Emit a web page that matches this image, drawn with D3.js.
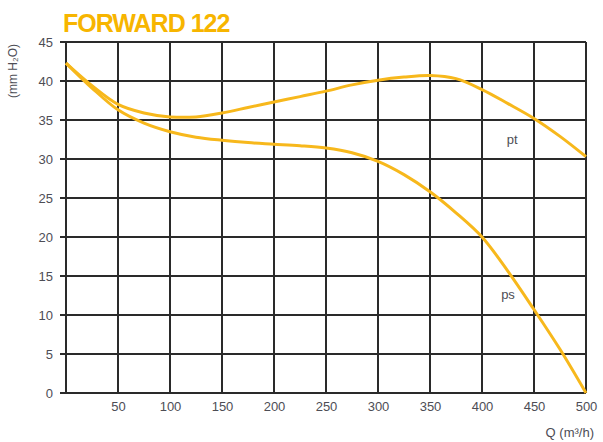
<!DOCTYPE html>
<html><head><meta charset="utf-8">
<script src="https://cdn.jsdelivr.net/npm/d3@7"></script>
<style>body{margin:0;background:#fff}svg{display:block}</style>
</head><body>
<script>
const title = "FORWARD 122";
const q = [0,25,50,75,100,125,150,175,200,225,250,275,300,325,350,375,400,425,450,475,500];
const pt = [42.3,39.4,37.0,35.9,35.4,35.4,35.9,36.6,37.3,38.0,38.7,39.5,40.1,40.5,40.7,40.3,38.9,37.1,35.2,32.9,30.3];
const ps = [42.3,39.1,36.3,34.6,33.5,32.8,32.4,32.1,31.9,31.7,31.4,30.8,29.7,28.0,25.8,23.1,20.0,15.6,10.7,5.6,0];
const xTicks = [50,100,150,200,250,300,350,400,450,500];
const yTicks = [0,5,10,15,20,25,30,35,40,45];
const seriesLabels = [{name:"pt", q:429, v:31.9},{name:"ps", q:425, v:12.0}];

const W=603,H=442;
const svg=d3.select("body").append("svg").attr("width",W).attr("height",H);
const x=d3.scaleLinear().domain([0,500]).range([66,586]);
const y=d3.scaleLinear().domain([0,45]).range([393,42]);
const gridColor="#2a2a2a", curveColor="#f7b81c", textColor="#4d4d55";
const font="Liberation Sans, Arial, sans-serif";

// grid
svg.append("g").selectAll("line").data(d3.range(0,501,50)).join("line")
  .attr("x1",d=>x(d)).attr("x2",d=>x(d)).attr("y1",y(45)).attr("y2",y(0))
  .attr("stroke",gridColor).attr("stroke-width",2);
svg.append("g").selectAll("line").data(yTicks).join("line")
  .attr("x1",60).attr("x2",x(500)).attr("y1",d=>y(d)).attr("y2",d=>y(d))
  .attr("stroke",gridColor).attr("stroke-width",2);

// axes labels
const yAxis=d3.axisLeft(y).tickValues(yTicks).tickSize(0).tickPadding(0);
const gy=svg.append("g").attr("transform","translate(53,0)").call(yAxis);
gy.select(".domain").remove();
gy.selectAll("text").attr("fill",textColor).style("font-family",font).style("font-size","13px");

const xAxis=d3.axisBottom(x).tickValues(xTicks).tickSize(0).tickPadding(0);
const gx=svg.append("g").attr("transform","translate(0,402)").call(xAxis);
gx.select(".domain").remove();
gx.selectAll("text").attr("fill",textColor).style("font-family",font).style("font-size","13px");

// curves
const line=d3.line().x((d,i)=>x(q[i])).y(d=>y(d)).curve(d3.curveCatmullRom.alpha(0.5));
[pt,ps].forEach(s=>{
  svg.append("path").attr("d",line(s)).attr("fill","none").attr("stroke",curveColor).attr("stroke-width",3);
});

// series labels
svg.selectAll(".sl").data(seriesLabels).join("text")
  .attr("x",d=>x(d.q)).attr("y",d=>y(d.v)).attr("text-anchor","middle")
  .attr("fill",textColor).style("font-family",font).style("font-size","13px")
  .text(d=>d.name);

// title
svg.append("text").attr("x",63).attr("y",32).text(title)
  .attr("fill","#f7b500").style("font-family",font)
  .style("font-weight","bold").style("font-size","25px").style("letter-spacing","-1px");

// y label
svg.append("text").attr("transform","translate(17,71) rotate(-90)").attr("text-anchor","middle")
  .attr("fill",textColor).style("font-family",font).style("font-size","12px")
  .text("(mm H₂O)");

// x label
svg.append("text").attr("x",594).attr("y",437).attr("text-anchor","end")
  .attr("fill",textColor).style("font-family",font).style("font-size","13px")
  .text("Q (m³/h)");
</script>
</body></html>
